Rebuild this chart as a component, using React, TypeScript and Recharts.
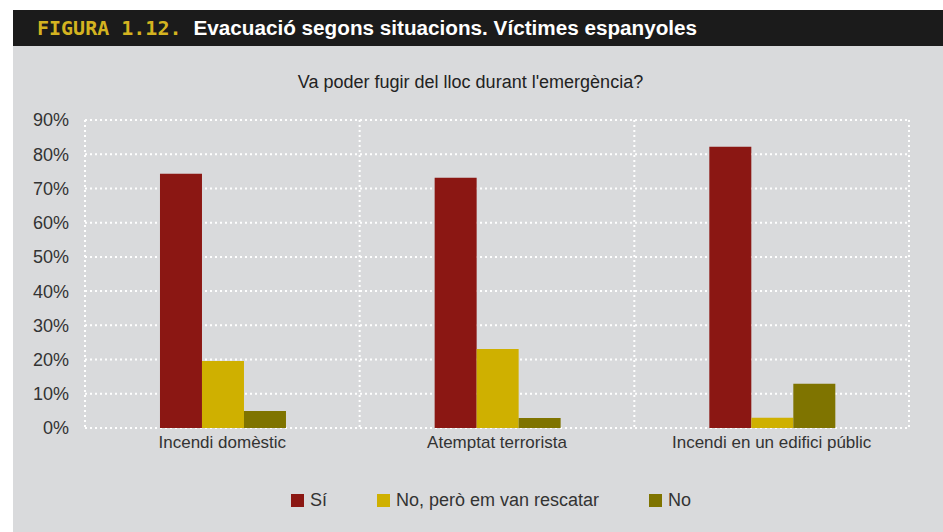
import React from 'react';
import { BarChart, Bar, XAxis, YAxis, CartesianGrid, Legend } from 'recharts';

const categories = ['Incendi domèstic', 'Atemptat terrorista', 'Incendi en un edifici públic'];
const siValues = [74.3, 73.1, 82.2];
const rescatValues = [19.6, 23.1, 3];
const noValues = [5, 2.9, 12.9];
const yTicks = [0, 10, 20, 30, 40, 50, 60, 70, 80, 90];

const seriesKeys = ['si', 'rescat', 'no'];
const seriesNames = ['Sí', 'No, però em van rescatar', 'No'];
const seriesColors = ['#8b1713', '#cfb000', '#7f7400'];

const data = categories.map((name, i) => ({
  name,
  si: siValues[i],
  rescat: rescatValues[i],
  no: noValues[i],
}));

const FONT = '"Liberation Sans", Arial, sans-serif';

// legend keeps the series order instead of the alphabetical one
function LegendContent() {
  return (
    <div style={{ display: 'flex', justifyContent: 'center', paddingLeft: 48, fontFamily: FONT, fontSize: 18, color: '#333' }}>
      {seriesNames.map((name, i) => (
        <div key={name} style={{ display: 'flex', alignItems: 'center', marginRight: i < seriesNames.length - 1 ? 50 : 0 }}>
          <span style={{ width: 13, height: 13, background: seriesColors[i], display: 'inline-block', marginRight: 6 }} />
          <span>{name}</span>
        </div>
      ))}
    </div>
  );
}

export default function App() {
  return (
    <div style={{ position: 'absolute', left: 0, top: 0, width: 943, height: 532, background: '#fff', overflow: 'hidden' }}>
      <div style={{ position: 'absolute', left: 13, top: 10, width: 930, height: 36, background: '#1b1b1b', display: 'flex', alignItems: 'center' }}>
        <span style={{ marginLeft: 24, fontFamily: '"DejaVu Sans Mono", monospace', fontWeight: 'bold', fontSize: 20, color: '#d4b320' }}>FIGURA 1.12.</span>
        <span style={{ marginLeft: 12, fontFamily: FONT, fontWeight: 'bold', fontSize: 20.7, color: '#fff' }}>
          Evacuació segons situacions. Víctimes espanyoles
        </span>
      </div>
      <div style={{ position: 'absolute', left: 13, top: 46, width: 930, height: 486, background: '#d9dadc' }}>
        <div style={{ position: 'absolute', left: 0, top: 26, width: 915, textAlign: 'center', fontFamily: FONT, fontSize: 18, color: '#222' }}>
          Va poder fugir del lloc durant l'emergència?
        </div>
        <BarChart
          width={930}
          height={486}
          data={data}
          margin={{ top: 74, right: 34, left: 12, bottom: 2 }}
          barCategoryGap="27.3%"
          barGap={0}
        >
          <CartesianGrid
            stroke="#ffffff"
            strokeWidth={2}
            strokeDasharray="2 3"
            verticalCoordinatesGenerator={({ offset }: any) =>
              categories.map((_, i) => offset.left + (offset.width * i) / categories.length).concat(offset.left + offset.width)
            }
          />
          <XAxis
            dataKey="name"
            axisLine={false}
            tickLine={false}
            tickSize={0}
            tickMargin={8}
            height={62}
            interval={0}
            tick={{ fontFamily: FONT, fontSize: 17, fill: '#333' }}
          />
          <YAxis
            domain={[0, 90]}
            ticks={yTicks}
            tickFormatter={(v: number) => `${v}%`}
            axisLine={false}
            tickLine={false}
            tickSize={0}
            tickMargin={16}
            width={60}
            tick={{ fontFamily: FONT, fontSize: 18, fill: '#333' }}
          />
          <Legend verticalAlign="bottom" height={40} content={<LegendContent />} />
          {seriesKeys.map((key, i) => (
            <Bar key={key} dataKey={key} name={seriesNames[i]} fill={seriesColors[i]} isAnimationActive={false} />
          ))}
        </BarChart>
      </div>
    </div>
  );
}
